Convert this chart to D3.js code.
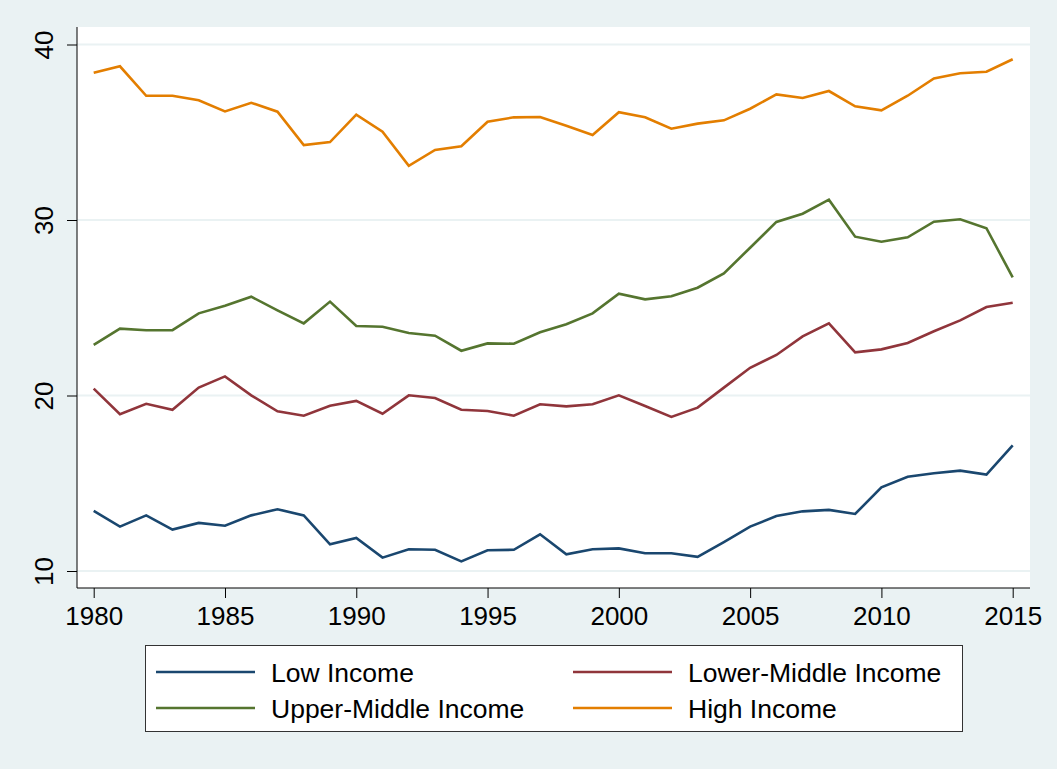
<!DOCTYPE html>
<html>
<head>
<meta charset="utf-8">
<script src="https://cdn.jsdelivr.net/npm/d3@7"></script>
<style>
  html, body { margin: 0; padding: 0; background: #EAF2F3; }
  #chart { width: 1057px; height: 769px; }
  text { font-family: "Liberation Sans", Arial, sans-serif; fill: #000; }
</style>
</head>
<body>
<div id="chart"></div>
<script>
var years = d3.range(1980, 2016);

var lowIncome = [13.42, 12.53, 13.17, 12.36, 12.74, 12.58, 13.17, 13.52, 13.17, 11.52,
    11.88, 10.76, 11.24, 11.21, 10.55, 11.18, 11.21, 12.09, 10.95, 11.24,
    11.29, 11.01, 11.01, 10.81, 11.65, 12.53, 13.13, 13.40, 13.48, 13.25,
    14.77, 15.37, 15.57, 15.72, 15.49, 17.16];

var lowerMiddle = [20.39, 18.93, 19.53, 19.19, 20.45, 21.09, 20.01, 19.10, 18.85, 19.42,
    19.69, 18.96, 20.01, 19.86, 19.19, 19.12, 18.85, 19.50, 19.38, 19.50,
    20.01, 19.40, 18.78, 19.31, 20.45, 21.58, 22.31, 23.37, 24.11, 22.46,
    22.63, 22.99, 23.66, 24.28, 25.04, 25.29];

var upperMiddle = [22.88, 23.81, 23.72, 23.72, 24.68, 25.12, 25.63, 24.85, 24.11, 25.35,
    23.96, 23.92, 23.56, 23.41, 22.55, 22.97, 22.95, 23.60, 24.06, 24.68,
    25.80, 25.48, 25.65, 26.14, 26.96, 28.42, 29.89, 30.36, 31.16, 29.05,
    28.76, 29.01, 29.90, 30.04, 29.53, 26.73];

var highIncome = [38.39, 38.76, 37.08, 37.08, 36.82, 36.19, 36.68, 36.17, 34.27, 34.44,
    36.00, 35.03, 33.09, 33.99, 34.20, 35.60, 35.85, 35.87, 35.37, 34.84,
    36.14, 35.85, 35.20, 35.49, 35.68, 36.34, 37.16, 36.95, 37.35, 36.48,
    36.25, 37.08, 38.07, 38.36, 38.45, 39.16];

var seriesNames = ["Low Income", "Lower-Middle Income", "Upper-Middle Income", "High Income"];
var seriesColors = ["#1A476F", "#90353B", "#55752F", "#E37E00"];
var xTicks = [1980, 1985, 1990, 1995, 2000, 2005, 2010, 2015];
var yTicks = [10, 20, 30, 40];

var series = [lowIncome, lowerMiddle, upperMiddle, highIncome];

var width = 1057, height = 769;
var plot = {left: 77, right: 1030, top: 27, bottom: 588};

var x = d3.scaleLinear().domain([1980, 2015]).range([93.7, 1012.7]),
    y = d3.scaleLinear().domain([10, 40]).range([571, 44.5]);

var svg = d3.select("#chart").append("svg")
    .attr("width", width)
    .attr("height", height);

svg.append("rect")
    .attr("width", width)
    .attr("height", height)
    .attr("fill", "#EAF2F3");

// white plot region
svg.append("rect")
    .attr("x", plot.left)
    .attr("y", plot.top)
    .attr("width", plot.right - plot.left)
    .attr("height", plot.bottom - plot.top)
    .attr("fill", "#fff");

// gridlines
svg.append("g")
    .selectAll("line")
    .data(yTicks)
    .enter().append("line")
    .attr("x1", plot.left)
    .attr("x2", plot.right)
    .attr("y1", function (d) { return y(d); })
    .attr("y2", function (d) { return y(d); })
    .attr("stroke", "#EAF2F3")
    .attr("stroke-width", 2);

// y axis, labels turned like stata does it
var yAxis = svg.append("g")
    .attr("transform", "translate(" + plot.left + ",0)")
    .call(d3.axisLeft(y).tickValues(yTicks).tickSize(10).tickSizeOuter(0).tickFormat(d3.format("d")));

yAxis.select(".domain").attr("d", "M0," + plot.top + "V" + plot.bottom).attr("stroke", "#000");
yAxis.selectAll(".tick line").attr("stroke", "#000");
yAxis.selectAll(".tick text")
    .attr("font-size", 26)
    .attr("text-anchor", "middle")
    .attr("x", 0)
    .attr("dy", 0)
    .attr("transform", "translate(-33,0) rotate(-90)")
    .attr("dominant-baseline", "central");

// x axis
var xAxis = svg.append("g")
    .attr("transform", "translate(0," + plot.bottom + ")")
    .call(d3.axisBottom(x).tickValues(xTicks).tickSize(10).tickSizeOuter(0).tickFormat(d3.format("d")));

xAxis.select(".domain").attr("d", "M" + plot.left + ",0H" + plot.right).attr("stroke", "#000");
xAxis.selectAll(".tick line").attr("stroke", "#000");
xAxis.selectAll(".tick text")
    .attr("font-size", 26)
    .attr("y", 19)
    .attr("dy", "0.71em");

svg.selectAll("g.tick text").attr("font-family", "'Liberation Sans', Arial, sans-serif");

// lines
var line = d3.line()
    .x(function (d, i) { return x(years[i]); })
    .y(function (d) { return y(d); });

svg.append("g")
    .selectAll("path")
    .data(series)
    .enter().append("path")
    .attr("d", line)
    .attr("fill", "none")
    .attr("stroke", function (d, i) { return seriesColors[i]; })
    .attr("stroke-width", 2.6)
    .attr("stroke-linejoin", "miter");

// legend
var legend = svg.append("g");

legend.append("rect")
    .attr("x", 145.5)
    .attr("y", 645.5)
    .attr("width", 817)
    .attr("height", 86)
    .attr("fill", "#fff")
    .attr("stroke", "#333")
    .attr("stroke-width", 1);

var items = legend.selectAll("g.item")
    .data(seriesNames)
    .enter().append("g")
    .attr("class", "item")
    .attr("transform", function (d, i) {
        return "translate(" + (i % 2 === 0 ? 156 : 573) + "," + (i < 2 ? 672 : 708) + ")";
    });

items.append("line")
    .attr("x1", 0)
    .attr("x2", 99)
    .attr("stroke", function (d, i) { return seriesColors[i]; })
    .attr("stroke-width", 2.6);

items.append("text")
    .attr("x", 115)
    .attr("dy", "0.36em")
    .attr("font-size", 26.5)
    .text(function (d) { return d; });
</script>
</body>
</html>
